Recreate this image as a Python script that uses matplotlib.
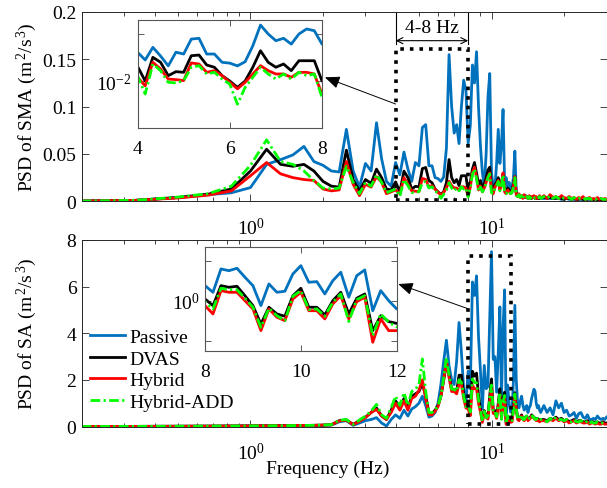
import numpy as np
import matplotlib
matplotlib.use('Agg')
import matplotlib.pyplot as plt
from matplotlib.ticker import FixedLocator, NullFormatter, LogLocator, FixedFormatter
from matplotlib.patches import Rectangle, ArrowStyle

plt.rcParams.update({
    'font.family': ['Liberation Serif', 'DejaVu Serif'],
    'font.size': 14,
    'mathtext.fontset': 'custom',
    'mathtext.rm': 'Liberation Serif',
    'mathtext.it': 'Liberation Serif:italic',
    'mathtext.bf': 'Liberation Serif:bold',
    'mathtext.default': 'regular',
    'axes.unicode_minus': False,
    'xtick.direction': 'in', 'ytick.direction': 'in',
    'xtick.top': True, 'ytick.right': True,
})

# ---------------- data ----------------
# frequency grid (Hz): 1/6 Hz resolution up to 16 Hz, then 0.5 Hz
FREQ = np.concatenate([np.arange(1, 97) / 6.0, np.arange(16.5, 30.01, 0.5)])

SERIES = ['Passive', 'DVAS', 'Hybrid', 'Hybrid-ADD']

# ---- PSD of SMA (m^2/s^3) ----
# 0.17-3.83 Hz
SMA_PASSIVE_LOW = [0.0, 0.001, 0.004, 0.007, 0.009, 0.0145, 0.039, 0.044, 0.049, 0.058, 0.042, 0.038,
                   0.032, 0.031, 0.076, 0.032, 0.015, 0.040, 0.032, 0.083, 0.045, 0.021, 0.016]
SMA_DVAS_LOW = [0.0, 0.001, 0.004, 0.0075, 0.013, 0.032, 0.055, 0.039, 0.037, 0.039, 0.032, 0.021,
                0.016, 0.015, 0.054, 0.023, 0.011, 0.023, 0.019, 0.034, 0.025, 0.013, 0.012]
SMA_HYBRID_LOW = [0.0, 0.001, 0.0035, 0.0065, 0.011, 0.027, 0.041, 0.029, 0.025, 0.023, 0.022, 0.013,
                  0.011, 0.012, 0.042, 0.018, 0.006, 0.018, 0.015, 0.026, 0.020, 0.008, 0.010]
SMA_HADD_LOW = [0.0, 0.001, 0.0045, 0.008, 0.016, 0.038, 0.065, 0.042, 0.039, 0.032, 0.022, 0.014,
                0.013, 0.014, 0.037, 0.020, 0.008, 0.020, 0.016, 0.028, 0.020, 0.009, 0.011]
# 4-8 Hz (shown in the inset)
SMA_PASSIVE_4_8 = [0.041, 0.028, 0.052, 0.034, 0.021, 0.041, 0.0375, 0.078, 0.081, 0.0375, 0.0375, 0.025,
                   0.024, 0.021, 0.0257, 0.056, 0.155, 0.100, 0.072, 0.081, 0.061, 0.100, 0.128, 0.1175, 0.061]
SMA_DVAS_4_8 = [0.0205, 0.0100, 0.0319, 0.025, 0.013, 0.0158, 0.0153, 0.0345, 0.0357, 0.0219, 0.0196, 0.013,
                0.0100, 0.0073, 0.0100, 0.0196, 0.0441, 0.025, 0.0196, 0.023, 0.0166, 0.027, 0.027, 0.027, 0.0100]
SMA_HYBRID_4_8 = [0.0120, 0.0079, 0.0250, 0.018, 0.0110, 0.0107, 0.0102, 0.0242, 0.0230, 0.0153, 0.0166, 0.013,
                  0.0094, 0.0068, 0.0094, 0.0141, 0.0212, 0.0166, 0.0141, 0.0141, 0.0120, 0.0153, 0.0153, 0.0141, 0.0053]
SMA_HADD_4_8 = [0.013, 0.0053, 0.0230, 0.0166, 0.0094, 0.0091, 0.0102, 0.0196, 0.0212, 0.0141, 0.0153, 0.0110,
                0.0086, 0.0032, 0.0073, 0.0120, 0.0196, 0.0141, 0.0110, 0.0141, 0.0110, 0.0153, 0.013, 0.0141, 0.0045]
# 8.17-16 Hz
SMA_PASSIVE_MID = [0.08, 0.144, 0.125, 0.158, 0.10, 0.058, 0.030, 0.016, 0.050, 0.110, 0.135, 0.030,
                   0.015, 0.015, 0.040, 0.076, 0.040, 0.060, 0.097, 0.020, 0.025, 0.015, 0.020, 0.010,
                   0.015, 0.025, 0.053, 0.010, 0.006, 0.007, 0.005, 0.006, 0.005, 0.004, 0.005, 0.004,
                   0.005, 0.004, 0.003, 0.004, 0.005, 0.004, 0.003, 0.004, 0.003, 0.004, 0.003, 0.003]
SMA_DVAS_MID = [0.020, 0.034, 0.041, 0.030, 0.018, 0.022, 0.015, 0.018, 0.025, 0.033, 0.036, 0.015,
                0.012, 0.018, 0.020, 0.025, 0.015, 0.020, 0.029, 0.012, 0.010, 0.014, 0.012, 0.010,
                0.012, 0.018, 0.026, 0.008, 0.006, 0.005, 0.006, 0.004, 0.005, 0.004, 0.006, 0.004,
                0.003, 0.005, 0.004, 0.003, 0.004, 0.005, 0.003, 0.004, 0.003, 0.004, 0.003, 0.004]
SMA_HYBRID_MID = [0.015, 0.030, 0.036, 0.025, 0.012, 0.016, 0.010, 0.014, 0.020, 0.026, 0.030, 0.010,
                  0.008, 0.015, 0.018, 0.022, 0.012, 0.018, 0.030, 0.010, 0.008, 0.012, 0.010, 0.008,
                  0.010, 0.016, 0.026, 0.007, 0.005, 0.008, 0.004, 0.006, 0.003, 0.007, 0.004, 0.005,
                  0.003, 0.006, 0.003, 0.005, 0.004, 0.006, 0.003, 0.005, 0.003, 0.004, 0.006, 0.003]
SMA_HADD_MID = [0.014, 0.028, 0.034, 0.024, 0.011, 0.015, 0.010, 0.013, 0.019, 0.025, 0.029, 0.009,
                0.008, 0.014, 0.017, 0.021, 0.011, 0.017, 0.028, 0.009, 0.008, 0.011, 0.010, 0.008,
                0.009, 0.015, 0.025, 0.006, 0.005, 0.007, 0.004, 0.006, 0.003, 0.006, 0.004, 0.005,
                0.003, 0.005, 0.003, 0.005, 0.004, 0.005, 0.003, 0.004, 0.003, 0.004, 0.005, 0.003]
# 16.5-30 Hz
SMA_PASSIVE_TAIL = [0.003, 0.004, 0.003, 0.003, 0.004, 0.003, 0.002, 0.003, 0.003, 0.002, 0.003, 0.002, 0.002, 0.003,
                    0.002, 0.002, 0.002, 0.003, 0.002, 0.002, 0.002, 0.002, 0.001, 0.002, 0.002, 0.001, 0.002, 0.002]
SMA_DVAS_TAIL = [0.004, 0.003, 0.004, 0.003, 0.003, 0.004, 0.003, 0.002, 0.003, 0.003, 0.002, 0.003, 0.002, 0.002,
                 0.003, 0.002, 0.002, 0.002, 0.003, 0.002, 0.002, 0.002, 0.002, 0.001, 0.002, 0.002, 0.001, 0.002]
SMA_HYBRID_TAIL = [0.006, 0.003, 0.007, 0.004, 0.005, 0.003, 0.006, 0.004, 0.003, 0.005, 0.003, 0.004, 0.002, 0.004,
                   0.003, 0.005, 0.002, 0.003, 0.004, 0.002, 0.003, 0.002, 0.004, 0.002, 0.003, 0.002, 0.003, 0.002]
SMA_HADD_TAIL = [0.005, 0.003, 0.006, 0.003, 0.005, 0.003, 0.005, 0.003, 0.003, 0.004, 0.002, 0.004, 0.002, 0.003,
                 0.003, 0.004, 0.002, 0.003, 0.003, 0.002, 0.003, 0.002, 0.003, 0.002, 0.003, 0.002, 0.002, 0.002]

# ---- PSD of SA (m^2/s^3) ----
# 0.17-7.83 Hz
SA_PASSIVE_LOW = [0.0, 0.005, 0.01, 0.015, 0.02, 0.025, 0.03, 0.035, 0.04, 0.04, 0.05, 0.05,
                  0.06, 0.20, 0.25, 0.05, 0.15, 0.25, 0.30, 0.38, 0.15, 0.02, 0.30, 0.50,
                  0.35, 0.70, 0.45, 0.75, 0.85, 1.0, 1.3, 0.9, 0.4, 0.45, 0.6, 1.0,
                  1.8, 2.8, 3.7, 2.6, 2.0, 1.8, 2.8, 4.46, 3.2, 1.6, 1.0]
SA_DVAS_LOW = [0.0, 0.005, 0.01, 0.015, 0.02, 0.025, 0.03, 0.035, 0.04, 0.045, 0.05, 0.06,
               0.08, 0.25, 0.28, 0.09, 0.25, 0.40, 0.60, 0.80, 0.45, 0.30, 0.70, 1.1,
               0.8, 1.2, 0.8, 1.3, 1.4, 1.5, 1.85, 1.3, 0.6, 0.55, 0.7, 0.9,
               1.3, 2.0, 2.7, 2.2, 1.6, 1.6, 1.5, 2.2, 2.2, 1.4, 0.9]
SA_HYBRID_LOW = [0.0, 0.005, 0.01, 0.015, 0.02, 0.025, 0.03, 0.035, 0.04, 0.045, 0.05, 0.06,
                 0.07, 0.24, 0.27, 0.08, 0.22, 0.38, 0.60, 0.73, 0.45, 0.30, 0.60, 1.0,
                 0.7, 1.1, 0.7, 1.2, 1.3, 1.55, 2.0, 1.2, 0.5, 0.5, 0.65, 0.85,
                 1.3, 2.0, 2.8, 2.1, 1.5, 1.5, 1.4, 1.8, 1.8, 1.2, 0.8]
SA_HADD_LOW = [0.0, 0.005, 0.01, 0.015, 0.02, 0.025, 0.03, 0.035, 0.04, 0.045, 0.05, 0.06,
               0.08, 0.27, 0.30, 0.09, 0.28, 0.45, 0.66, 0.95, 0.50, 0.35, 0.80, 1.3,
               0.9, 1.45, 0.9, 1.5, 1.6, 1.8, 2.9, 1.5, 0.6, 0.6, 0.7, 0.9,
               1.3, 2.1, 2.95, 2.2, 1.6, 1.6, 1.5, 2.0, 1.9, 1.3, 0.85]
# 8-12 Hz (shown in the inset)
SA_PASSIVE_8_12 = [2.37, 1.62, 6.20, 5.62, 6.46, 3.85, 2.37, 0.75, 2.62, 1.62, 1.72, 4.65, 7.50,
                   2.88, 2.99, 1.47, 3.16, 5.13, 1.22, 4.22, 5.86, 0.56, 1.78, 1.00, 0.62]
SA_DVAS_8_12 = [1.10, 0.75, 2.37, 2.16, 2.29, 1.33, 0.75, 0.26, 0.684, 0.465, 0.407, 1.33, 2.04,
                0.684, 0.684, 0.439, 1.00, 1.62, 0.465, 1.15, 1.47, 0.178, 0.42, 0.30, 0.27]
SA_HYBRID_8_12 = [0.75, 0.465, 1.78, 1.62, 1.62, 1.00, 0.62, 0.178, 0.62, 0.385, 0.316, 1.10, 1.62,
                  0.56, 0.56, 0.349, 0.827, 1.33, 0.349, 0.944, 1.22, 0.091, 0.349, 0.178, 0.178]
SA_HADD_8_12 = [0.944, 0.62, 2.04, 1.88, 1.88, 1.15, 0.684, 0.216, 0.646, 0.42, 0.316, 1.29, 1.78,
                0.596, 0.62, 0.407, 0.912, 1.47, 0.30, 1.06, 1.33, 0.133, 0.465, 0.288, 0.22]
# 12.17-16 Hz
SA_PASSIVE_MID = [0.6, 2.0, 5.2, 2.0, 1.0, 0.8, 1.1, 1.3, 0.9, 0.7, 0.8, 0.9,
                  0.6, 0.8, 0.9, 1.2, 1.4, 1.6, 1.5, 1.0, 0.8, 0.9, 0.7, 0.6]
SA_DVAS_MID = [0.3, 0.8, 1.45, 0.8, 0.4, 0.3, 0.4, 0.5, 0.35, 0.3, 0.4, 0.45,
               0.3, 0.35, 0.4, 0.5, 0.45, 0.4, 0.35, 0.3, 0.35, 0.3, 0.25, 0.3]
SA_HYBRID_MID = [0.2, 0.7, 1.3, 0.7, 0.3, 0.25, 0.35, 0.45, 0.3, 0.25, 0.35, 0.4,
                 0.25, 0.3, 0.35, 0.45, 0.4, 0.35, 0.3, 0.25, 0.3, 0.25, 0.2, 0.25]
SA_HADD_MID = [0.25, 0.75, 1.4, 0.75, 0.35, 0.3, 0.4, 0.5, 0.3, 0.3, 0.4, 0.45,
               0.3, 0.35, 0.4, 0.5, 0.4, 0.4, 0.3, 0.3, 0.35, 0.3, 0.25, 0.3]
# 16.5-30 Hz
SA_PASSIVE_TAIL = [0.9, 0.6, 0.8, 0.5, 1.1, 0.8, 1.0, 0.6, 0.7, 0.45, 0.5, 0.6, 0.35, 0.55,
                   0.6, 0.4, 0.35, 0.5, 0.3, 0.3, 0.35, 0.3, 0.45, 0.35, 0.3, 0.35, 0.3, 0.4]
SA_DVAS_TAIL = [0.3, 0.25, 0.35, 0.3, 0.4, 0.3, 0.35, 0.25, 0.3, 0.2, 0.25, 0.3, 0.2, 0.25,
                0.25, 0.2, 0.2, 0.25, 0.15, 0.2, 0.2, 0.15, 0.2, 0.15, 0.15, 0.2, 0.15, 0.15]
SA_HYBRID_TAIL = [0.25, 0.2, 0.3, 0.25, 0.35, 0.25, 0.3, 0.2, 0.25, 0.15, 0.2, 0.25, 0.15, 0.2,
                  0.2, 0.15, 0.15, 0.2, 0.1, 0.15, 0.15, 0.1, 0.15, 0.1, 0.1, 0.15, 0.1, 0.1]
SA_HADD_TAIL = [0.3, 0.2, 0.35, 0.25, 0.4, 0.3, 0.3, 0.25, 0.3, 0.2, 0.2, 0.3, 0.2, 0.2,
                0.25, 0.2, 0.15, 0.25, 0.15, 0.2, 0.15, 0.15, 0.2, 0.15, 0.15, 0.15, 0.15, 0.15]

SMA = [SMA_PASSIVE_LOW + SMA_PASSIVE_4_8 + SMA_PASSIVE_MID + SMA_PASSIVE_TAIL,
       SMA_DVAS_LOW + SMA_DVAS_4_8 + SMA_DVAS_MID + SMA_DVAS_TAIL,
       SMA_HYBRID_LOW + SMA_HYBRID_4_8 + SMA_HYBRID_MID + SMA_HYBRID_TAIL,
       SMA_HADD_LOW + SMA_HADD_4_8 + SMA_HADD_MID + SMA_HADD_TAIL]
SA = [SA_PASSIVE_LOW + SA_PASSIVE_8_12 + SA_PASSIVE_MID + SA_PASSIVE_TAIL,
      SA_DVAS_LOW + SA_DVAS_8_12 + SA_DVAS_MID + SA_DVAS_TAIL,
      SA_HYBRID_LOW + SA_HYBRID_8_12 + SA_HYBRID_MID + SA_HYBRID_TAIL,
      SA_HADD_LOW + SA_HADD_8_12 + SA_HADD_MID + SA_HADD_TAIL]
for s in SMA + SA:
    assert len(s) == len(FREQ), len(s)

# ---------------- styles ----------------
COLORS = ['#0072BD', '#000000', '#FF0000', '#00FF00']
STYLES = ['-', '-', '-', (0, (3.5, 1.2, 0.8, 1.2))]
LW = 2.0
AXC = '#262626'

W, H = 607, 489
fig = plt.figure(figsize=(W / 100, H / 100), dpi=100)


def px_axes(l, t, r, b):
    return fig.add_axes([l / W, 1 - b / H, (r - l) / W, (b - t) / H])


ax1 = px_axes(82, 13, 606.5, 202.3)
ax2 = px_axes(82, 241, 606.5, 427.5)
in1 = px_axes(137.5, 21, 322, 129)
in2 = px_axes(205, 248.3, 396.7, 351.7)

for ax, data in ((ax1, SMA), (ax2, SA)):
    for name, vals, c, ls in zip(SERIES, data, COLORS, STYLES):
        ax.plot(FREQ, vals, color=c, linestyle=ls, lw=LW, label=name)
    ax.set_xscale('log')
    ax.set_xlim(0.2, 30)
    ax.xaxis.set_major_locator(FixedLocator([1, 10]))
    ax.xaxis.set_major_formatter(FixedFormatter(['$10^0$', '$10^1$']))
    ax.xaxis.set_minor_locator(LogLocator(base=10, subs=np.arange(2, 10)))
    ax.xaxis.set_minor_formatter(NullFormatter())
    ax.tick_params(which='major', length=5, width=0.6, color=AXC, labelsize=14)
    ax.tick_params(which='minor', length=3, width=0.6, color=AXC)
    ax.tick_params(axis='x', which='major', pad=11)
    ax.tick_params(axis='y', which='major', pad=4)
    for sp in ax.spines.values():
        sp.set_color(AXC)
        sp.set_linewidth(0.7)

ax1.set_ylim(0, 0.2)
ax1.set_yticks([0, 0.05, 0.1, 0.15, 0.2])
ax1.set_yticklabels(['0', '0.05', '0.1', '0.15', '0.2'])
ax2.set_ylim(0, 8)
ax2.set_yticks([0, 2, 4, 6, 8])
ax2.set_yticklabels(['0', '2', '4', '6', '8'])

ax1.set_ylabel('PSD of SMA (m$^{\\,2}$/s$^{\\,3}$)', fontsize=14)
ax2.set_ylabel('PSD of SA (m$^{\\,2}$/s$^{\\,3}$)', fontsize=14)
ax1.yaxis.set_label_coords(-0.082, 0.5)
ax2.yaxis.set_label_coords(-0.082, 0.5)
ax2.set_xlabel('Frequency (Hz)', fontsize=14)
ax2.xaxis.set_label_coords(0.469, -0.18)

# insets
for ax, data, xl, yl, xt, yt, ytl in (
        (in1, SMA, (4, 8), (0.001, 0.1986), [4, 6, 8], [0.001, 0.01, 0.1], ['', '$10^{-2}$', '']),
        (in2, SA, (8, 12), (0.056, 21.6), [8, 10, 12], [0.1, 1, 10], ['', '$10^0$', ''])):
    for name, vals, c, ls in zip(SERIES, data, COLORS, STYLES):
        ax.plot(FREQ, vals, color=c, linestyle=ls, lw=LW)
    ax.set_yscale('log', nonpositive='mask')
    ax.set_xlim(*xl)
    ax.set_ylim(*yl)
    ax.set_xticks(xt)
    ax.set_xticklabels([str(v) for v in xt])
    ax.yaxis.set_major_locator(FixedLocator(yt))
    ax.yaxis.set_major_formatter(FixedFormatter(ytl))
    ax.yaxis.set_minor_locator(matplotlib.ticker.NullLocator())
    ax.tick_params(which='major', length=4, width=0.6, color='#404040', labelsize=14)
    ax.tick_params(axis='x', pad=9)
    ax.tick_params(axis='y', pad=4)
    for sp in ax.spines.values():
        sp.set_color('#555555')
        sp.set_linewidth(0.8)

# dotted zoom boxes
ax1.add_patch(Rectangle((4, 0.0015), 4, 0.161 - 0.0015, fill=False, ls=':', lw=2.6, ec='k', zorder=5))
ax2.add_patch(Rectangle((8, 0.1), 4, 7.32 - 0.1, fill=False, ls=':', lw=2.6, ec='k', zorder=5))

# 4-8 Hz dimension marker
ax1.plot([4, 4], [0.2, 0.166], color='k', lw=0.8, clip_on=False)
ax1.plot([8, 8], [0.2, 0.166], color='k', lw=0.8, clip_on=False)
ax1.annotate('', xy=(8, 0.1697), xytext=(4, 0.1697),
             arrowprops=dict(arrowstyle='<->', color='k', lw=0.8, shrinkA=0, shrinkB=0, mutation_scale=11))
ax1.text(np.sqrt(4 * 8), 0.184, '4-8 Hz', ha='center', va='center', fontsize=14)

# arrows to insets
head = ArrowStyle('-|>', head_length=0.9, head_width=0.38)
ax1.annotate('', xy=(1.016, 0.469), xycoords=in1.transAxes, xytext=(4, 0.1028), textcoords='data',
             arrowprops=dict(arrowstyle=head, color='k', lw=0.7, shrinkA=0, shrinkB=0, mutation_scale=10),
             annotation_clip=False)
ax2.annotate('', xy=(1.008, 0.645), xycoords=in2.transAxes, xytext=(8, 5.05), textcoords='data',
             arrowprops=dict(arrowstyle=head, color='k', lw=0.7, shrinkA=0, shrinkB=0, mutation_scale=10),
             annotation_clip=False)

ax2.legend(loc='upper left', bbox_to_anchor=(0.015, 0.525), frameon=False, handlelength=1.8,
           handletextpad=0.25, labelspacing=0.2, borderpad=0, borderaxespad=0, fontsize=14)

fig.savefig('out.png', dpi=100)
